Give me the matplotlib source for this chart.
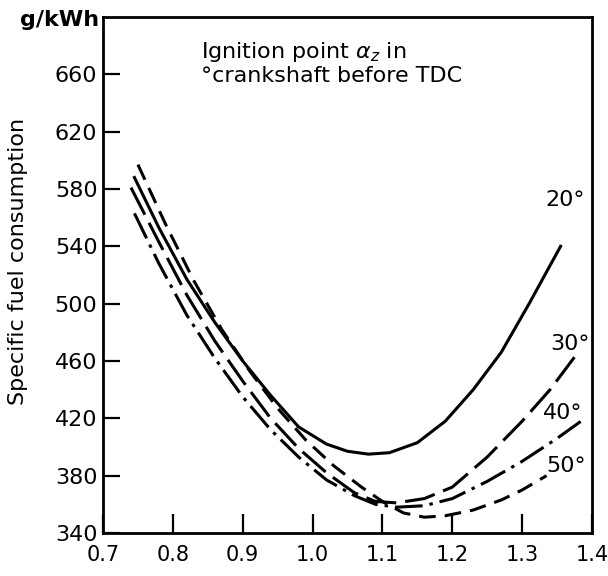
import matplotlib
matplotlib.use('Agg')
import matplotlib.pyplot as plt

# lambda (excess-air factor) and specific fuel consumption
x20 = [0.745, 0.78, 0.82, 0.86, 0.90, 0.94, 0.98, 1.02, 1.05, 1.08, 1.11, 1.15, 1.19, 1.23, 1.27, 1.31, 1.355]
y20 = [588, 553, 517, 487, 460, 436, 414, 402, 397, 395, 396, 403, 418, 440, 466, 500, 540]

x30 = [0.74, 0.78, 0.82, 0.86, 0.90, 0.94, 0.98, 1.02, 1.06, 1.09, 1.12, 1.16, 1.20, 1.25, 1.30, 1.34, 1.38]
y30 = [581, 543, 506, 474, 446, 420, 399, 382, 368, 362, 361, 364, 372, 393, 418, 440, 466]

x40 = [0.745, 0.78, 0.82, 0.86, 0.90, 0.94, 0.98, 1.02, 1.06, 1.09, 1.12, 1.16, 1.20, 1.25, 1.30, 1.35, 1.39]
y40 = [563, 528, 492, 462, 435, 412, 393, 377, 366, 360, 358, 359, 364, 376, 390, 406, 420]

x50 = [0.75, 0.79, 0.83, 0.87, 0.91, 0.95, 0.99, 1.03, 1.07, 1.10, 1.13, 1.16, 1.19, 1.23, 1.27, 1.30, 1.335]
y50 = [597, 555, 516, 482, 453, 427, 405, 387, 372, 362, 354, 351, 352, 356, 363, 370, 380]

curve_labels = ['20°', '30°', '40°', '50°']
xticks = [0.7, 0.8, 0.9, 1.0, 1.1, 1.2, 1.3, 1.4]
yticks = [340, 380, 420, 460, 500, 540, 580, 620, 660]

plt.rcParams['font.family'] = ['DejaVu Sans']
plt.rcParams['lines.scale_dashes'] = False

fig = plt.figure(figsize=(6.08, 5.76), dpi=100)
ax = fig.add_axes([0.1694, 0.0747, 0.8043, 0.8958])

lw = 2.2
ax.plot(x20, y20, color='black', lw=lw, ls='-')
ax.plot(x30, y30, color='black', lw=lw, dashes=(22, 6.5))
ax.plot(x40, y40, color='black', lw=lw, dashes=(20, 5, 2.5, 5))
ax.plot(x50, y50, color='black', lw=lw, dashes=(12, 6.5))

# curve labels
lab_pos = [(1.362, 572), (1.368, 472), (1.358, 424), (1.363, 387)]
for lab, (lx, ly) in zip(curve_labels, lab_pos):
    ax.text(lx, ly, lab, fontsize=16, ha='center', va='center')

ax.text(0.84, 684, 'Ignition point $\\alpha_z$ in\n°crankshaft before TDC',
        fontsize=16, ha='left', va='top', linespacing=1.1)

ax.set_xlim(0.7, 1.4)
ax.set_ylim(340, 700)
ax.set_xticks(xticks)
ax.set_xticklabels([f'{v:.1f}' for v in xticks])
ax.set_yticks(yticks)
ax.tick_params(direction='in', length=12, width=1.6, labelsize=16, pad=4)
ax.tick_params(axis='x', length=14, pad=9, labelsize=15)
for s in ax.spines.values():
    s.set_linewidth(2)

fig.text(99 / 608, 1 - 20 / 576, 'g/kWh', fontsize=16, fontweight='bold',
         ha='right', va='center')
fig.text(18 / 608, 1 - 261 / 576, 'Specific fuel consumption', fontsize=16,
         rotation=90, ha='center', va='center')

fig.savefig('out.png', dpi=100)
